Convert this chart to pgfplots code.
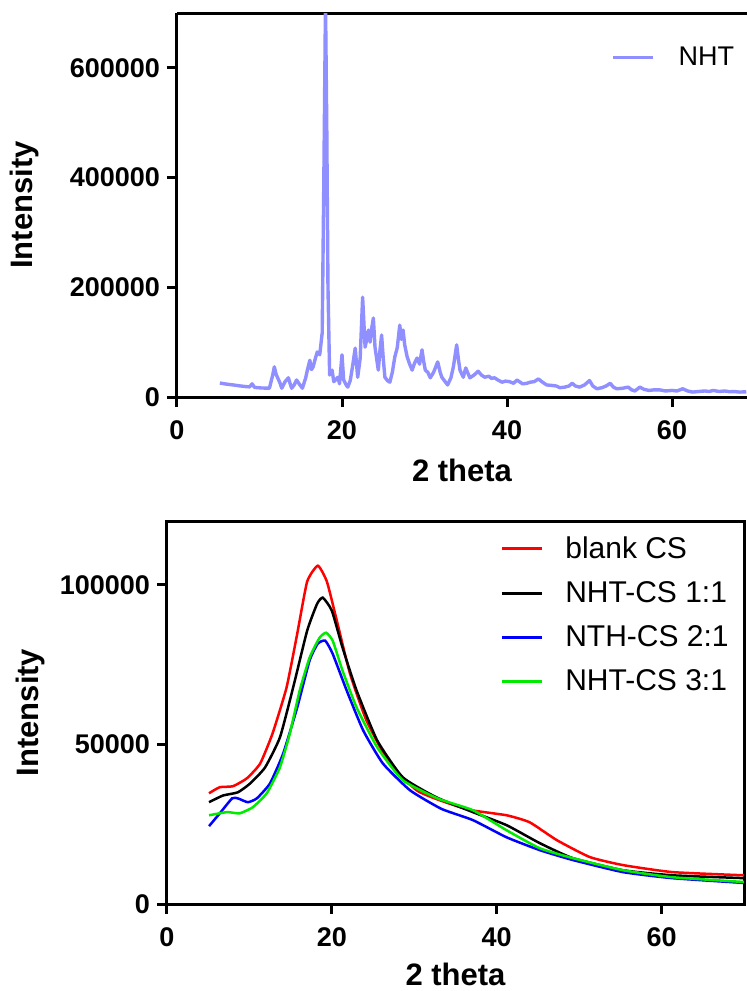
\documentclass[border=0pt]{standalone}
\usepackage{fontspec}
\setmainfont{Liberation Sans}
\usepackage{pgfplots}
\pgfplotsset{compat=1.18}
\definecolor{nht}{RGB}{143,143,255}
\definecolor{gr}{RGB}{0,235,0}
\begin{document}
\begin{tikzpicture}
\useasboundingbox (0,0) rectangle (373.5pt,-495.5pt);
\pgfplotsset{
  common/.style={
    scale only axis,
    anchor=south west,
    xmin=0, ymin=0,
    axis line style={line width=1.5pt,-},
    every tick/.style={line width=1.5pt,black},
    tick align=outside,
    major tick length=5pt,
    xtick pos=bottom, ytick pos=left,
    xtick={0,20,40,60},
    xticklabels={0,20,40,60},
    scaled y ticks=false,
    tick label style={font=\fontsize{13.5}{16}\selectfont\bfseries},
    xticklabel style={yshift=-3.5pt},
    label style={font=\fontsize{15.5}{18}\selectfont\bfseries},
    xlabel={2 theta}, ylabel={Intensity},
    minor tick num=0,
    legend cell align=left,
    legend image code/.code={\draw[#1,line width=1.5pt] (0pt,0pt) -- (20pt,0pt);},
  }
}
% ---------- top panel ----------
\begin{axis}[common,
  at={(88.5pt,-198.5pt)},
  width=285pt, height=192pt,
  xmax=69.09, ymax=700000,
  axis x line*=box, axis y line*=left,
  ytick={0,200000,400000,600000},
  yticklabels={0,200000,400000,600000},
  ylabel style={at={(axis description cs:-0.267,0.5)},anchor=center,rotate=0},
  xlabel style={at={(axis description cs:0.5,-0.19)},anchor=center},
  legend style={draw=none,fill=none,at={(axis description cs:0.762,0.883)},anchor=west,inner sep=0pt,
    font=\fontsize{13.5}{16}\selectfont, nodes={inner sep=2pt}, column sep=10pt},
]
\addplot[nht, line width=1.7pt, line join=round] coordinates {
(5.2,25500) (6.0,23500) (6.8,22000) (7.5,20500) (8.3,19000) (8.8,18500) (9.1,24000) (9.4,17500) (10.2,16500) (11.2,16000) (11.6,40000) (11.8,55000) (12.0,42000) (12.2,35000) (12.5,25000) (12.7,16000) (13.1,28000) (13.5,35000) (13.7,25000) (13.9,16000) (14.2,22000) (14.5,31000) (14.8,24000) (15.2,16000) (15.6,35000) (15.8,49000) (16.1,67000) (16.3,50000) (16.5,55000) (16.8,72000) (17.0,82000) (17.3,77000) (17.6,117000) (17.8,400000) (18.0,720000) (18.15,500000) (18.3,200000) (18.5,40000) (18.8,49000) (19.0,28000) (19.2,31000) (19.5,36000) (19.7,24000) (20.0,77000) (20.2,31000) (20.5,22000) (20.7,18000) (21.0,30000) (21.3,58000) (21.6,89000) (21.9,36000) (22.2,70000) (22.5,182000) (22.8,91000) (23.0,105000) (23.2,122000) (23.4,100000) (23.6,125000) (23.8,144000) (24.0,91000) (24.2,70000) (24.4,49000) (24.6,85000) (24.8,113000) (25.0,70000) (25.2,36000) (25.5,30000) (25.8,27000) (26.1,45000) (26.4,73000) (26.7,90000) (27.0,131000) (27.2,105000) (27.4,122000) (27.6,95000) (27.9,73000) (28.2,60000) (28.5,49000) (28.8,62000) (29.1,71000) (29.4,60000) (29.7,86000) (29.9,65000) (30.1,49000) (30.4,45000) (30.7,35000) (31.1,45000) (31.6,64000) (31.9,45000) (32.1,36000) (32.5,28000) (32.8,22000) (33.2,35000) (33.5,55000) (33.9,95000) (34.1,70000) (34.3,49000) (34.7,36000) (35.0,53000) (35.3,42000) (35.5,35000) (36.0,40000) (36.5,47000) (36.9,40000) (37.3,36000) (37.8,38000) (38.1,34000) (38.5,35000) (38.9,31000) (39.4,27000) (39.8,29000) (40.3,28000) (40.8,25000) (41.2,31000) (41.6,27000) (41.9,24000) (42.4,25000) (42.8,27000) (43.3,28000) (43.8,33000) (44.3,27000) (44.8,22000) (45.5,21000) (46.0,20000) (46.4,17000) (47.0,18000) (47.5,20000) (47.9,25000) (48.3,20000) (48.8,18000) (49.4,22000) (50.0,30000) (50.4,20000) (50.9,15000) (51.5,17000) (52.0,20000) (52.5,25000) (52.9,18000) (53.3,15000) (54.0,16000) (54.7,18000) (55.1,13000) (55.5,11000) (56.1,18000) (56.6,14000) (57.2,12000) (57.8,13000) (58.5,13000) (59.2,11000) (60.0,12000) (60.6,11000) (61.3,15000) (61.9,11000) (62.5,9000) (63.2,10000) (64.0,11000) (64.5,10000) (65.0,12000) (65.7,10000) (66.4,11000) (67.0,9500) (67.5,10000) (68.2,9000) (69.0,9500)
};
\addlegendentry{NHT}
\end{axis}
% ---------- bottom panel ----------
\begin{axis}[common,
  at={(83.5pt,-452pt)},
  width=288.5pt, height=191.5pt,
  xmax=70, ymax=120000,
  ytick={0,50000,100000},
  yticklabels={0,50000,100000},
  ylabel style={at={(axis description cs:-0.237,0.5)},anchor=center,rotate=0},
  xlabel style={at={(axis description cs:0.5,-0.185)},anchor=center},
  legend style={draw=none,fill=none,at={(axis description cs:0.577,0.755)},anchor=west,inner sep=0pt,
    font=\fontsize{15}{18}\selectfont, nodes={inner sep=2pt}, row sep=6pt, column sep=9pt},
]
\addplot[red, line width=1.25pt, smooth, tension=0.3] coordinates {
(5.1,34700) (6.4,36600) (8.0,36900) (9.7,39400) (11.3,44000) (12.8,53400) (14.5,67800) (15.8,84700) (17.0,101000) (18.3,106000) (19.4,101000) (20.6,88800) (22.2,72200) (24.2,57500) (27.0,44000) (30.3,35600) (33.1,32500) (36.7,29500) (41.2,27800) (44.0,25600) (47.3,20000) (51.3,14700) (55.3,12200) (61.3,10000) (70,9000)
};
\addlegendentry{blank CS}
\addplot[black, line width=1.25pt, smooth, tension=0.3] coordinates {
(5.1,31900) (6.8,34000) (8.6,35000) (10.1,37800) (11.9,42800) (13.7,52200) (15.3,67800) (17.0,85600) (18.2,94000) (18.9,96000) (20.0,91900) (21.3,80300) (23.0,66900) (25.5,51250) (28.6,39700) (32.7,33400) (37.1,28800) (41.2,24700) (45.2,19100) (49.2,14400) (55.3,10600) (61.3,9000) (70,8100)
};
\addlegendentry{NHT-CS 1:1}
\addplot[blue, line width=1.25pt, smooth, tension=0.3] coordinates {
(5.1,24400) (6.4,28400) (7.9,33100) (8.6,33100) (9.8,31900) (10.9,33100) (12.5,37800) (14.1,47200) (15.8,61600) (17.3,76300) (18.3,81600) (19.2,82500) (20.1,78400) (21.8,66900) (23.8,54400) (26.2,44000) (29.5,35600) (33.3,29800) (37.1,26300) (41.2,20900) (45.2,16900) (49.2,13800) (55.3,10000) (61.3,8100) (70,6600)
};
\addlegendentry{NTH-CS 2:1}
\addplot[gr, line width=1.25pt, smooth, tension=0.3] coordinates {
(5.1,27800) (7.3,28800) (8.8,28400) (10.4,30300) (12.1,34700) (13.7,42800) (14.9,53400) (16.1,66900) (17.3,77200) (18.5,83400) (19.3,85000) (20.1,82500) (21.3,73100) (23.0,61600) (25.5,49100) (28.6,38800) (32.9,33000) (37.1,29400) (41.2,23100) (45.2,17500) (49.2,14400) (55.3,10600) (61.3,8400) (70,6900)
};
\addlegendentry{NHT-CS 3:1}
\end{axis}
\end{tikzpicture}
\end{document}
